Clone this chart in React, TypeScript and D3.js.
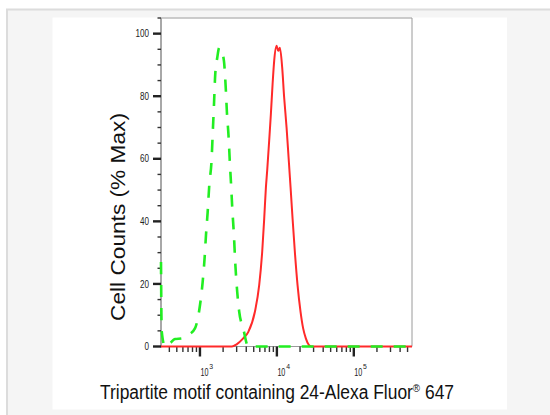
import React from "react";
import * as d3 from "d3";

// ---- Data ----
// Fluorescence intensity (x) and % Max counts (y)
const redX = [311.6, 2604, 2997, 3650, 4240, 5180, 5890, 6445, 6842, 7195, 7480, 7943, 8357, 8796, 9225, 9911, 10397, 10940, 11720, 12437, 13366, 14190, 15063, 15994, 17134, 18570, 20313, 21963, 23800, 26030, 28220, 571000];
const redY = [0, 0, 0.7, 2.6, 4.6, 11.1, 19.6, 30.3, 40.8, 50.7, 56.2, 65.8, 74.3, 83.9, 91.3, 96.1, 94.5, 95.5, 89.2, 79.6, 70.0, 60.5, 50.9, 40.9, 30.2, 19.6, 11.1, 5.8, 2.6, 0.5, 0, 0];

const greenX = [311.6, 318, 351, 408, 474, 584, 699, 861, 979, 1084, 1151, 1197, 1259, 1321, 1419, 1462, 1520, 1580, 1678, 1781, 1874, 2050, 2157, 2242, 2359, 2452, 2550, 2627, 2765, 2873, 3050, 3239, 3650, 4240, 571000];
const greenY = [27, 5, 0, 1, 2.4, 2.6, 3.6, 5.8, 11.6, 20.6, 28.5, 35.5, 42.9, 51.5, 60.0, 67.5, 77.0, 87.0, 92.3, 95.5, 95.0, 91.3, 83.3, 74.8, 66.9, 58.4, 50.9, 44.5, 35.5, 27.0, 17.5, 11.1, 5.8, 0, 0];

const yMajorTicks = [0, 20, 40, 60, 80, 100];
const yMinorTicks = [5, 10, 15, 25, 30, 35, 45, 50, 55, 65, 70, 75, 85, 90, 95, 105];
const xMajorTicks = [1000, 10000, 100000];
const xMajorExp = ["3", "4", "5"];
const xMinorTicks = [400, 500, 600, 700, 800, 900, 2000, 3000, 4000, 5000, 6000, 7000, 8000, 9000, 20000, 30000, 40000, 50000, 60000, 70000, 80000, 90000, 200000, 300000, 400000, 500000];

const xDomain = [311.6, 571000];
const yDomain = [0, 105];

const yTitle = "Cell Counts (% Max)";
const xTitleMain = "Tripartite motif containing 24-Alexa Fluor";
const xTitleSup = "®";
const xTitleEnd = " 647";

export default function App() {
  const left = 161, right = 412, top = 18, bottom = 346.5;
  const x = d3.scaleLog().domain(xDomain).range([left, right]);
  const y = d3.scaleLinear().domain(yDomain).range([bottom, top]);

  const line = d3
    .line<[number, number]>()
    .x((d) => x(d[0]))
    .y((d) => y(d[1]))
    .curve(d3.curveMonotoneX);

  const redPts = redX.map((v, i) => [v, redY[i]] as [number, number]);
  const greenPts = greenX.map((v, i) => [v, greenY[i]] as [number, number]);

  const font = "'Liberation Sans', Arial, sans-serif";

  return (
    <svg
      width={550}
      height={415}
      style={{ position: "absolute", left: 0, top: 0 }}
      xmlns="http://www.w3.org/2000/svg"
    >
      <rect x={0} y={0} width={550} height={415} fill="#ffffff" />
      <rect x={7} y={9.5} width={600} height={500} fill="#f5f5f5" stroke="#dcdcdc" strokeWidth={2} />
      <rect x={52.5} y={17.5} width={454.5} height={392} fill="#ffffff" />

      {/* frame */}
      <line x1={left} y1={top} x2={right} y2={top} stroke="#9a9a9a" strokeWidth={1} />
      <line x1={right} y1={top} x2={right} y2={bottom} stroke="#9a9a9a" strokeWidth={1} />
      <line x1={left} y1={bottom} x2={right} y2={bottom} stroke="#9a9a9a" strokeWidth={1} />
      <line x1={left} y1={top} x2={left} y2={bottom + 1} stroke="#a8a8a8" strokeWidth={2} />

      {/* y ticks */}
      {yMinorTicks.map((t) => (
        <line key={"ym" + t} x1={left - 3.5} x2={left} y1={y(t)} y2={y(t)} stroke="#333" strokeWidth={1.4} />
      ))}
      {yMajorTicks.map((t) => (
        <g key={"yM" + t}>
          <line x1={left - 8} x2={left} y1={y(t)} y2={y(t)} stroke="#222" strokeWidth={2.4} />
          <text
            x={149}
            y={y(t)}
            dy="0.36em"
            textAnchor="end"
            fontFamily={font}
            fontSize={10}
            fill="#222"
            textLength={4.5 * String(t).length}
            lengthAdjust="spacingAndGlyphs"
          >
            {t}
          </text>
        </g>
      ))}

      {/* x ticks */}
      {xMinorTicks.map((t) => (
        <line key={"xm" + t} x1={x(t)} x2={x(t)} y1={bottom} y2={bottom + 5.5} stroke="#333" strokeWidth={1.4} />
      ))}
      {xMajorTicks.map((t, i) => (
        <g key={"xM" + t}>
          <line x1={x(t)} x2={x(t)} y1={bottom} y2={bottom + 10} stroke="#222" strokeWidth={2.4} />
          <text
            x={x(t) + 0.5}
            y={376}
            fontFamily={font}
            fontSize={10.5}
            fill="#222"
            textLength={8}
            lengthAdjust="spacingAndGlyphs"
          >
            10
          </text>
          <text
            x={x(t) + 9.3}
            y={368.5}
            fontFamily={font}
            fontSize={7.5}
            fill="#222"
            textLength={3.8}
            lengthAdjust="spacingAndGlyphs"
          >
            {xMajorExp[i]}
          </text>
        </g>
      ))}

      {/* curves */}
      <path d={line(redPts) || ""} fill="none" stroke="#ff2a2a" strokeWidth={2} strokeLinejoin="round" />
      <path
        d={line(greenPts) || ""}
        fill="none"
        stroke="#22ee22"
        strokeWidth={2.6}
        strokeDasharray="12,11"
      />

      {/* titles */}
      <text
        transform="translate(125,217) rotate(-90)"
        textAnchor="middle"
        fontFamily={font}
        fontSize={21}
        fill="#111"
        textLength={208}
        lengthAdjust="spacingAndGlyphs"
      >
        {yTitle}
      </text>
      <text
        x={100}
        y={399}
        fontFamily={font}
        fontSize={19.5}
        fill="#111"
        textLength={354}
        lengthAdjust="spacingAndGlyphs"
      >
        {xTitleMain}
        <tspan fontSize={11} dy={-7}>{xTitleSup}</tspan>
        <tspan dy={7}>{xTitleEnd}</tspan>
      </text>
    </svg>
  );
}
